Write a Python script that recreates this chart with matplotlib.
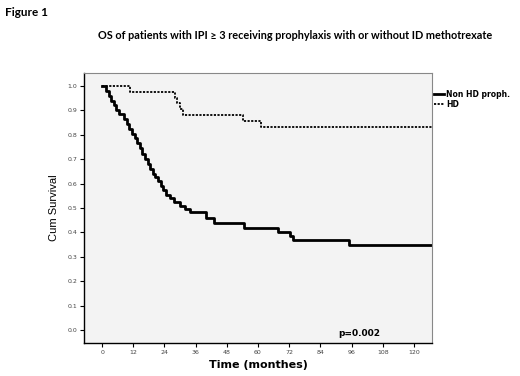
import matplotlib
matplotlib.use("Agg")
import matplotlib.pyplot as plt

# Kaplan-Meier steps (time in months, cumulative survival)
t_non_hd = [0, 1.5, 2.5, 3.5, 4.5, 5.5, 6.5, 8.5, 9.5, 10.5, 11.5, 12.5, 13.5, 14.5,
            15.5, 16.5, 17.5, 18.5, 19.5, 20.5, 21.5, 22.5, 23.5, 24.5, 26, 27.5,
            30, 32, 34, 40, 43, 54.6, 67.7, 72.4, 73.5, 95, 128]
s_non_hd = [1.0, 0.98, 0.96, 0.94, 0.92, 0.90, 0.885, 0.865, 0.845, 0.825, 0.805,
            0.785, 0.765, 0.745, 0.72, 0.70, 0.68, 0.66, 0.64, 0.625, 0.61, 0.59,
            0.575, 0.555, 0.54, 0.525, 0.51, 0.495, 0.484, 0.46, 0.44, 0.42, 0.40,
            0.385, 0.37, 0.35, 0.35]

t_hd = [0, 10.8, 28, 29, 30, 31, 54.2, 61.2, 128]
s_hd = [1.0, 0.976, 0.952, 0.928, 0.904, 0.88, 0.856, 0.832, 0.832]

x_ticks = [0, 12, 24, 36, 48, 60, 72, 84, 96, 108, 120]
y_ticks = [0.0, 0.1, 0.2, 0.3, 0.4, 0.5, 0.6, 0.7, 0.8, 0.9, 1.0]

fig = plt.figure(figsize=(5.2, 3.76), dpi=100)
ax = fig.add_axes([0.1615, 0.0878, 0.6693, 0.7181])
ax.set_facecolor("#f3f3f3")

ax.step(t_non_hd, s_non_hd, where="post", color="black", lw=2.0,
        label="Non HD proph.")
ax.step(t_hd, s_hd, where="post", color="black", lw=1.3, ls=(0, (1.2, 0.8)),
        label="HD")

ax.set_xlim(-7, 127)
ax.set_ylim(-0.053, 1.053)
ax.set_xticks(x_ticks)
ax.set_yticks(y_ticks)
ax.set_xticklabels([str(v) for v in x_ticks])
ax.set_yticklabels(["%.1f" % v for v in y_ticks])
ax.tick_params(axis="both", direction="out", length=3, width=0.8,
               labelsize=4.5, labelcolor="#444444", pad=2)

for side in ["top", "right"]:
    ax.spines[side].set_color("#888888")
    ax.spines[side].set_linewidth(0.8)
for side in ["left", "bottom"]:
    ax.spines[side].set_linewidth(1.0)

ax.set_ylabel("Cum Survival", fontsize=8, family="Liberation Sans", labelpad=6)
ax.set_xlabel("Time (monthes)", fontsize=8, fontweight="bold", labelpad=4)

ax.text(0.73, 0.025, "p=0.002", transform=ax.transAxes, fontsize=6.5,
        fontweight="bold")

fig.legend(loc="upper left", bbox_to_anchor=(0.828, 0.77), frameon=False,
           prop={"weight": "bold", "size": 5.5},
           handlelength=1.3, handletextpad=0.3, labelspacing=0.15,
           borderaxespad=0)

fig.text(0.01, 0.967, "Figure 1", fontsize=8.5, fontweight="bold",
         family="Lato", va="center")
fig.text(0.567, 0.905,
         "OS of patients with IPI \u2265 3 receiving prophylaxis with or without ID methotrexate",
         fontsize=7.8, fontweight="bold", family=["Lato", "DejaVu Sans"],
         ha="center", va="center")

fig.savefig("out.png", dpi=100, facecolor="white")
